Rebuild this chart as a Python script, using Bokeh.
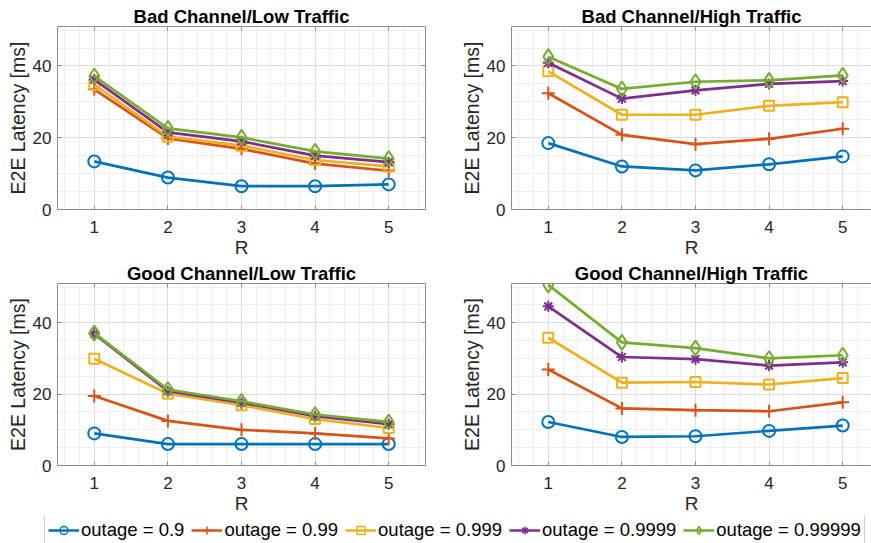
from bokeh.plotting import figure
from bokeh.models import FixedTicker, LinearAxis, Range1d, Legend, LegendItem
from bokeh.layouts import column, row
from bokeh.embed import file_html
from bokeh.resources import INLINE

# ---------------- data ----------------
R = [1, 2, 3, 4, 5]
series_labels = ["outage = 0.9", "outage = 0.99", "outage = 0.999",
                 "outage = 0.9999", "outage = 0.99999"]

bad_low_0_9 = [13.4, 8.9, 6.5, 6.5, 7.0]
bad_low_0_99 = [33.5, 19.8, 16.9, 12.8, 10.8]
bad_low_0_999 = [34.8, 20.3, 17.8, 13.8, 12.0]
bad_low_0_9999 = [36.2, 21.5, 19.0, 15.0, 13.2]
bad_low_0_99999 = [37.2, 22.6, 20.1, 16.2, 14.2]

bad_high_0_9 = [18.5, 12.0, 10.9, 12.6, 14.8]
bad_high_0_99 = [32.4, 20.8, 18.2, 19.7, 22.5]
bad_high_0_999 = [38.5, 26.4, 26.4, 28.9, 29.9]
bad_high_0_9999 = [40.9, 30.9, 33.2, 35.0, 35.8]
bad_high_0_99999 = [42.6, 33.6, 35.6, 36.0, 37.4]

good_low_0_9 = [9.0, 6.0, 6.0, 6.0, 6.0]
good_low_0_99 = [19.5, 12.5, 10.0, 9.0, 7.6]
good_low_0_999 = [29.9, 20.1, 16.9, 13.0, 10.5]
good_low_0_9999 = [36.9, 20.8, 17.6, 13.8, 11.6]
good_low_0_99999 = [37.1, 21.3, 18.0, 14.3, 12.2]

good_high_0_9 = [12.2, 8.0, 8.2, 9.7, 11.2]
good_high_0_99 = [26.9, 16.0, 15.5, 15.2, 17.7]
good_high_0_999 = [35.8, 23.2, 23.4, 22.7, 24.5]
good_high_0_9999 = [44.6, 30.4, 29.8, 28.0, 28.9]
good_high_0_99999 = [50.6, 34.5, 32.9, 30.0, 30.9]

x_major_ticks = [1, 2, 3, 4, 5]
x_minor_ticks = [0.6, 0.8, 1.0, 1.2, 1.4, 1.6, 1.8, 2.0, 2.2, 2.4, 2.6, 2.8, 3.0,
                 3.2, 3.4, 3.6, 3.8, 4.0, 4.2, 4.4, 4.6, 4.8, 5.0, 5.2, 5.4]
y_major_ticks = [0, 20, 40]
y_minor_ticks = [0, 5, 10, 15, 20, 25, 30, 35, 40, 45, 50]

# ---------------- style ----------------
colors = ["#0072BD", "#D95319", "#EDB120", "#7E2F8E", "#77AC30"]
markers = ["circle", "cross", "square", "asterisk", "diamond"]
msizes = [12, 13, 10, 11, 15]
FONT = "Liberation Sans"
TXT = "#262626"
EDGE = "#8c8c8c"
X_START, Y_END = 0.5, 51
PX_PER_UNIT = 368 / 5.0
NAN = float("nan")


def style_axis(ax, labels=True):
    ax.axis_line_color = EDGE
    ax.axis_line_width = 1
    ax.major_tick_line_color = EDGE
    ax.major_tick_in = 4
    ax.major_tick_out = 0
    ax.minor_tick_in = 0
    ax.minor_tick_out = 0
    ax.minor_tick_line_color = None
    if labels:
        ax.major_label_text_font = FONT
        ax.major_label_text_font_size = "17px"
        ax.major_label_text_color = TXT
        ax.axis_label_text_font = FONT
        ax.axis_label_text_font_size = "19px"
        ax.axis_label_text_font_style = "normal"
        ax.axis_label_text_color = TXT
    else:
        ax.major_label_text_font_size = "1px"
        ax.major_label_text_color = None
        ax.major_label_standoff = 0


def make_panel(title, data, width, height, frame_w, right_box, mbl, mbr, mbt, mbb):
    x_end = X_START + frame_w / PX_PER_UNIT
    p = figure(width=width, height=height, output_backend="svg", toolbar_location=None,
               x_range=Range1d(X_START, x_end), y_range=Range1d(0, Y_END),
               min_border_left=mbl, min_border_right=mbr,
               min_border_top=mbt, min_border_bottom=mbb,
               x_axis_label="R", y_axis_label="E2E Latency [ms]")
    p.title.text = title
    p.title.text_font = FONT
    p.title.text_font_size = "18.5px"
    p.title.text_font_style = "bold"
    p.title.text_color = "#000000"
    p.title.align = "center"
    p.title.standoff = 0
    p.outline_line_color = None
    p.background_fill_color = "white"
    p.border_fill_color = "white"

    xt = FixedTicker(ticks=x_major_ticks, minor_ticks=x_minor_ticks)
    yt = FixedTicker(ticks=y_major_ticks, minor_ticks=y_minor_ticks)
    p.xaxis.ticker = xt
    p.yaxis.ticker = yt
    for ax in p.xaxis + p.yaxis:
        style_axis(ax)
    p.yaxis.axis_label_text_font_size = "19.5px"
    p.xaxis.major_label_standoff = 11
    p.yaxis.major_label_standoff = 6
    p.xaxis.axis_label_standoff = 1
    p.yaxis.axis_label_standoff = 1

    top = LinearAxis(ticker=FixedTicker(ticks=x_major_ticks))
    style_axis(top, labels=False)
    p.add_layout(top, "above")
    if right_box:
        rt = LinearAxis(ticker=FixedTicker(ticks=y_major_ticks))
        style_axis(rt, labels=False)
        p.add_layout(rt, "right")

    p.xgrid.grid_line_color = "#dcdcdc"
    p.ygrid.grid_line_color = "#dcdcdc"
    p.xgrid.minor_grid_line_color = "#eeeeee"
    p.ygrid.minor_grid_line_color = "#eeeeee"

    for vals, c, m, s in zip(data, colors, markers, msizes):
        p.line(R, vals, line_color=c, line_width=2.7)
        p.scatter(R, vals, marker=m, size=s, line_color=c, fill_color=None, line_width=2)
    return p


p1 = make_panel("Bad Channel/Low Traffic",
                [bad_low_0_9, bad_low_0_99, bad_low_0_999, bad_low_0_9999, bad_low_0_99999],
                435, 260, 368, True, 57, 10, 26, 51)
p2 = make_panel("Bad Channel/High Traffic",
                [bad_high_0_9, bad_high_0_99, bad_high_0_999, bad_high_0_9999, bad_high_0_99999],
                436, 260, 360, False, 76, 0, 26, 51)
p3 = make_panel("Good Channel/Low Traffic",
                [good_low_0_9, good_low_0_99, good_low_0_999, good_low_0_9999, good_low_0_99999],
                435, 256, 368, True, 57, 10, 22, 51)
p4 = make_panel("Good Channel/High Traffic",
                [good_high_0_9, good_high_0_99, good_high_0_999, good_high_0_9999, good_high_0_99999],
                436, 256, 360, False, 76, 0, 22, 51)

# ---------------- legend strip ----------------
leg = figure(width=871, height=27, output_backend="svg", toolbar_location=None,
             x_axis_location=None, y_axis_location=None,
             min_border_left=44, min_border_right=0, min_border_top=0, min_border_bottom=0,
             x_range=Range1d(0, 1), y_range=Range1d(0, 1))
leg.outline_line_color = None
leg.grid.visible = False
items = []
for lab, c, m in zip(series_labels, colors, markers):
    rl = leg.line([NAN], [NAN], line_color=c, line_width=2.5)
    rs = leg.scatter([NAN], [NAN], marker=m, size=8, line_color=c, fill_color=None, line_width=1.5)
    items.append(LegendItem(label=lab, renderers=[rl, rs]))
legend = Legend(items=items, orientation="horizontal", location="left",
                label_text_font=FONT, label_text_font_size="18.5px", label_text_color="#000000",
                glyph_width=31, glyph_height=20, label_height=18, label_standoff=2,
                spacing=7, padding=3, margin=0,
                border_line_color="#a0a0a0", border_line_width=1,
                background_fill_color="white", background_fill_alpha=1)
leg.add_layout(legend)

layout = column(row(p1, p2), row(p3, p4), leg)
open("out.html", "w").write(file_html(layout, INLINE))
